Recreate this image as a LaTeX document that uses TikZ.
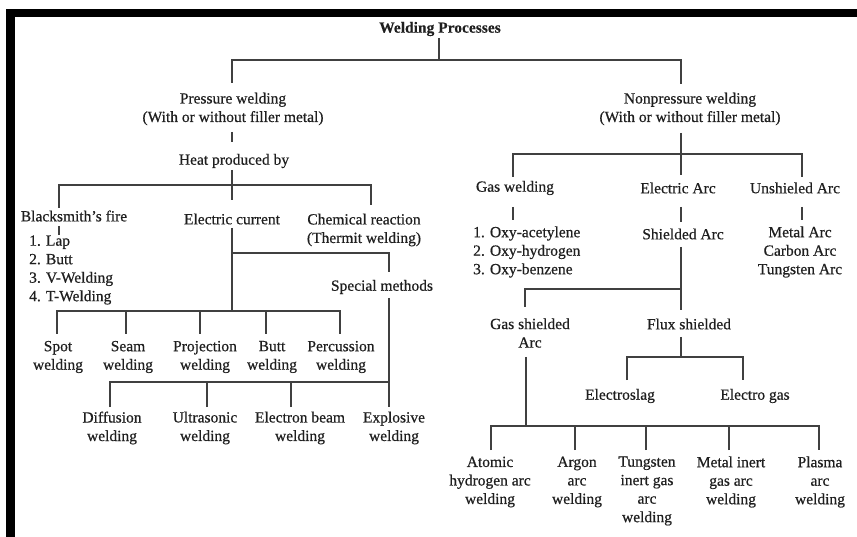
\documentclass[tikz,border=0pt]{standalone}
\usepackage{fontspec}
\setmainfont{Liberation Serif}[FakeBold=0.6]
\newfontfamily\titlefont{Liberation Serif}[FakeBold=0.3]
\begin{document}
\begin{tikzpicture}[x=1pt,y=-1pt,
  lbl/.style={font=\fontsize{15.5}{18.5}\selectfont, text=black!88, inner sep=0pt, align=center},
  lst/.style={font=\fontsize{15.5}{18.5}\selectfont, text=black!88, inner sep=0pt, align=left, anchor=west},
  conn/.style={draw=black!75, line width=1.1pt}]
\useasboundingbox (0,0) rectangle (857,537);
% frame bars
\fill[black] (6,9.3) rectangle (857,17.3);
\fill[black] (6,9.3) rectangle (15,537);

% ---------- nodes ----------
\node[lbl, font=\fontsize{15.5}{18.5}\titlefont\bfseries] (title) at (440,29) {Welding Processes};
\node[lbl] (pw) at (233,109) {Pressure welding\\(With or without filler metal)};
\node[lbl] (heat) at (234,161) {Heat produced by};
\node[lbl] (bsf) at (74,216) {Blacksmith's fire};
\node[lbl] (ec) at (232,219) {Electric current};
\node[lbl] (chem) at (364,230) {Chemical reaction\\(Thermit welding)};
\node[lst] (bsflist) at (29,270) {1. Lap\\2. Butt\\3. V-Welding\\4. T-Welding};
\node[lbl] (sm) at (382,287) {Special methods};
\node[lbl] (spot) at (58,357) {Spot\\welding};
\node[lbl] (seam) at (128,357) {Seam\\welding};
\node[lbl] (proj) at (205,357) {Projection\\welding};
\node[lbl] (butt) at (272,357) {Butt\\welding};
\node[lbl] (perc) at (341,357) {Percussion\\welding};
\node[lbl] (diff) at (112,428) {Diffusion\\welding};
\node[lbl] (ultra) at (205,428) {Ultrasonic\\welding};
\node[lbl] (ebeam) at (300,428) {Electron beam\\welding};
\node[lbl] (expl) at (394,428) {Explosive\\welding};

\node[lbl] (npw) at (690,109) {Nonpressure welding\\(With or without filler metal)};
\node[lbl] (gas) at (515,188) {Gas welding};
\node[lbl] (earc) at (678,188) {Electric Arc};
\node[lbl] (unsh) at (795,188) {Unshieled Arc};
\node[lst] (gaslist) at (473,252) {1. Oxy-acetylene\\2. Oxy-hydrogen\\3. Oxy-benzene};
\node[lbl] (shield) at (683,234) {Shielded Arc};
\node[lbl] (unlist) at (800,252) {Metal Arc\\Carbon Arc\\Tungsten Arc};
\node[lbl] (gsa) at (530,333) {Gas shielded\\Arc};
\node[lbl] (flux) at (689,324) {Flux shielded};
\node[lbl] (eslag) at (620,396) {Electroslag};
\node[lbl] (egas) at (755,396) {Electro gas};
\node[lbl] (atomic) at (490,482) {Atomic\\hydrogen arc\\welding};
\node[lbl] (argon) at (577,482) {Argon\\arc\\welding};
\node[lbl] (tig) at (647,491) {Tungsten\\inert gas\\arc\\welding};
\node[lbl] (mig) at (731,482) {Metal inert\\gas arc\\welding};
\node[lbl] (plasma) at (820,482) {Plasma\\arc\\welding};

% ---------- junction coordinates ----------
\coordinate (tA) at (439,38);   \coordinate (tB) at (439,60);
\coordinate (b1L) at (232,60);  \coordinate (b1R) at (681,60);
\coordinate (pA) at (232,83);   \coordinate (nA) at (681,84);
\coordinate (p1) at (232,132);  \coordinate (p2) at (232,142);
\coordinate (p3) at (232,170);  \coordinate (p4) at (232,200);
\coordinate (b2L) at (59,185);  \coordinate (b2R) at (371,185);
\coordinate (b2Ld) at (59,208); \coordinate (b2Rd) at (371,205);
\coordinate (bs1) at (59,226);  \coordinate (bs2) at (59,235);
\coordinate (e1) at (232,228);  \coordinate (e2) at (232,311);
\coordinate (s0) at (232,253);  \coordinate (s1) at (389,253); \coordinate (s2) at (389,272);
\coordinate (b3L) at (57,311);  \coordinate (b3R) at (340,311);
\coordinate (k1) at (57,334);   \coordinate (k2) at (126,334); \coordinate (k3) at (200,334);
\coordinate (k4) at (266,334);  \coordinate (k5) at (340,334);
\coordinate (sm1) at (389,298); \coordinate (sm2) at (389,407);
\coordinate (b4L) at (110,382); \coordinate (b4R) at (389,382);
\coordinate (m1) at (110,407);  \coordinate (m2) at (207,407); \coordinate (m3) at (291,407);

\coordinate (r1) at (681,133);  \coordinate (r2) at (681,175);
\coordinate (b5L) at (513,154); \coordinate (b5R) at (802,154);
\coordinate (b5Ld) at (513,177);\coordinate (b5Rd) at (802,177);
\coordinate (g1) at (513,207);  \coordinate (g2) at (513,220);
\coordinate (ea1) at (681,207); \coordinate (ea2) at (681,222);
\coordinate (u1) at (802,207);  \coordinate (u2) at (802,220);
\coordinate (sh1) at (681,247); \coordinate (sh2) at (681,310);
\coordinate (b6L) at (525,289); \coordinate (b6R) at (681,289); \coordinate (b6Ld) at (525,307);
\coordinate (f1) at (681,337);  \coordinate (f2) at (681,357);
\coordinate (b7L) at (627,357); \coordinate (b7R) at (743,357);
\coordinate (b7Ld) at (627,380);\coordinate (b7Rd) at (743,380);
\coordinate (gs1) at (526,357); \coordinate (gs2) at (526,426);
\coordinate (b8L) at (491,426); \coordinate (b8R) at (819,426);
\coordinate (n1) at (491,450);  \coordinate (n2) at (575,450); \coordinate (n3) at (646,450);
\coordinate (n4) at (729,450);  \coordinate (n5) at (819,450);

% ---------- connectors ----------
\draw[conn] (tA) -- (tB);
\draw[conn] (pA) -- (b1L) -- (b1R) -- (nA);
\draw[conn] (p1) -- (p2);
\draw[conn] (p3) -- (p4);
\draw[conn] (b2Ld) -- (b2L) -- (b2R) -- (b2Rd);
\draw[conn] (bs1) -- (bs2);
\draw[conn] (e1) -- (e2);
\draw[conn] (s0) -- (s1) -- (s2);
\draw[conn] (k1) -- (b3L) -- (b3R) -- (k5);
\draw[conn] (k2) -- (k2 |- b3L);
\draw[conn] (k3) -- (k3 |- b3L);
\draw[conn] (k4) -- (k4 |- b3L);
\draw[conn] (sm1) -- (sm2);
\draw[conn] (m1) -- (b4L) -- (b4R);
\draw[conn] (m2) -- (m2 |- b4L);
\draw[conn] (m3) -- (m3 |- b4L);

\draw[conn] (r1) -- (r2);
\draw[conn] (b5Ld) -- (b5L) -- (b5R) -- (b5Rd);
\draw[conn] (g1) -- (g2);
\draw[conn] (ea1) -- (ea2);
\draw[conn] (u1) -- (u2);
\draw[conn] (sh1) -- (sh2);
\draw[conn] (b6Ld) -- (b6L) -- (b6R);
\draw[conn] (f1) -- (f2);
\draw[conn] (b7Ld) -- (b7L) -- (b7R) -- (b7Rd);
\draw[conn] (gs1) -- (gs2);
\draw[conn] (n1) -- (b8L) -- (b8R) -- (n5);
\draw[conn] (n2) -- (n2 |- b8L);
\draw[conn] (n3) -- (n3 |- b8L);
\draw[conn] (n4) -- (n4 |- b8L);
\end{tikzpicture}
\end{document}
